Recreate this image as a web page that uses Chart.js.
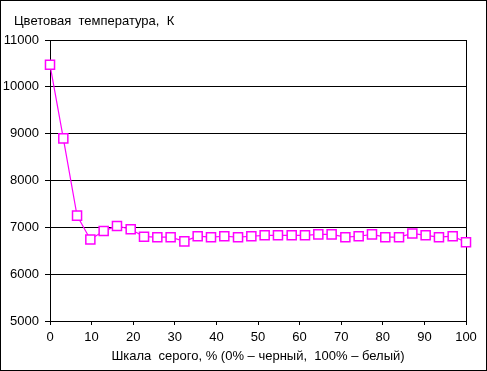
<!DOCTYPE html>
<html><head><meta charset="utf-8">
<script src="https://cdn.jsdelivr.net/npm/chart.js@4"></script>
<style>html,body{margin:0;padding:0;background:#fff}#wrap{width:487px;height:371px}</style>
</head><body><div id="wrap"><canvas id="c" width="487" height="371"></canvas></div>
<script>
const grayPercent = [0, 3.2, 6.5, 9.7, 12.9, 16.1, 19.4, 22.6, 25.8, 29.0, 32.3, 35.5, 38.7, 41.9, 45.2, 48.4, 51.6, 54.8, 58.1, 61.3, 64.5, 67.7, 71.0, 74.2, 77.4, 80.6, 83.9, 87.1, 90.3, 93.5, 96.8, 100];
const colorTemp = [10470, 8900, 7250, 6740, 6920, 7030, 6960, 6800, 6790, 6790, 6700, 6810, 6790, 6810, 6790, 6810, 6830, 6830, 6830, 6830, 6850, 6850, 6790, 6810, 6850, 6790, 6790, 6870, 6830, 6790, 6810, 6680];
const yTitle = 'Цветовая  температура,  К';
const xTitle = 'Шкала  серого, % (0% – черный,  100% – белый)';
const FONT = 'Liberation Sans, Arial, sans-serif';

const deco = {
  id: 'deco',
  beforeDatasetsDraw(chart) {
    const ctx = chart.ctx, a = chart.chartArea;
    ctx.save();
    ctx.strokeStyle = '#000';
    ctx.lineWidth = 1;
    ctx.beginPath();
    ctx.moveTo(Math.round(a.right) + 0.5, a.top);
    ctx.lineTo(Math.round(a.right) + 0.5, a.bottom);
    ctx.stroke();
    ctx.restore();
  },
  afterDraw(chart) {
    const ctx = chart.ctx;
    ctx.save();
    ctx.strokeStyle = '#000';
    ctx.lineWidth = 1;
    ctx.strokeRect(0.5, 0.5, chart.width - 1, chart.height - 1);
    ctx.fillStyle = '#000';
    ctx.font = '13px ' + FONT;
    ctx.textBaseline = 'middle';
    ctx.textAlign = 'left';
    ctx.fillText(yTitle, 14, 21);
    ctx.restore();
  }
};

new Chart(document.getElementById('c'), {
  type: 'line',
  data: {
    datasets: [{
      data: grayPercent.map((x, i) => ({x: x, y: colorTemp[i]})),
      borderColor: '#FF00FF',
      borderWidth: 1.2,
      pointStyle: 'rect',
      pointRadius: 6.4,
      pointBorderWidth: 1.5,
      pointBackgroundColor: '#FFFFFF',
      pointBorderColor: '#FF00FF',
      tension: 0,
      clip: false
    }]
  },
  options: {
    responsive: false,
    animation: false,
    layout: {padding: {left: 0, right: 21, top: 40, bottom: 0}},
    plugins: {legend: {display: false}, tooltip: {enabled: false}},
    scales: {
      x: {
        type: 'linear', min: 0, max: 100,
        border: {color: '#000', width: 1},
        grid: {drawOnChartArea: false, drawTicks: true, tickLength: 4, color: '#000'},
        ticks: {stepSize: 10, color: '#000', font: {family: FONT, size: 13}, padding: 5, maxRotation: 0},
        title: {display: true, text: xTitle, color: '#000', font: {family: FONT, size: 13}, padding: {top: 2, bottom: 7}},
        afterFit(s) { s.height = 50; }
      },
      y: {
        min: 5000, max: 11000,
        border: {color: '#000', width: 1},
        grid: {color: '#000', lineWidth: 1, tickLength: 5},
        ticks: {stepSize: 1000, color: '#000', font: {family: FONT, size: 13}, padding: 6,
                callback: v => String(v)},
        afterFit(s) { s.width = 50; }
      }
    }
  },
  plugins: [deco]
});
</script></body></html>
